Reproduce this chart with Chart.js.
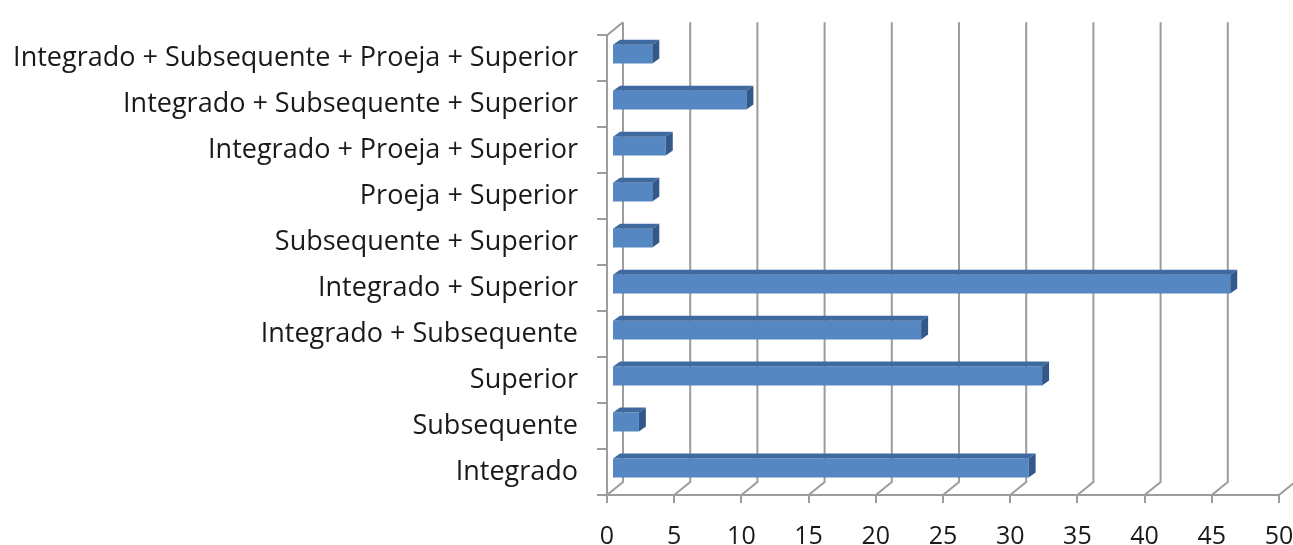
<!DOCTYPE html>
<html>
<head>
<meta charset="utf-8">
<script src="https://cdn.jsdelivr.net/npm/chart.js@4.4.0/dist/chart.umd.min.js"></script>
<style>
  html, body { margin: 0; padding: 0; background: #fff; overflow: hidden; }
  #wrap { width: 1302px; height: 545px; }
</style>
</head>
<body>
<div id="wrap"><canvas id="myChart"></canvas></div>
<script>
// categories listed top to bottom as they appear
const categories = [
  'Integrado + Subsequente + Proeja + Superior',
  'Integrado + Subsequente + Superior',
  'Integrado + Proeja + Superior',
  'Proeja + Superior',
  'Subsequente + Superior',
  'Integrado + Superior',
  'Integrado + Subsequente',
  'Superior',
  'Subsequente',
  'Integrado'
];
const values = [3, 10, 4, 3, 3, 46, 23, 32, 2, 31];
const xTicks = [0, 5, 10, 15, 20, 25, 30, 35, 40, 45, 50];

const gridColor = '#9c9c9c';
const frontColor = '#5587c3';
const topColor = '#3f6aa0';
const sideColor = '#33598a';
const wallDepth = { x: 16, y: 13 };  // back wall offset
const barDepth = { x: 7, y: 5 };     // bar extrusion
const barShift = { x: 5, y: -4 };

// fake 3D: back wall lines behind, extrude faces on the bars
const threeD = {
  id: 'threeD',
  beforeDatasetsDraw(chart) {
    const { ctx, chartArea: a, scales: { x } } = chart;
    ctx.save();
    ctx.strokeStyle = gridColor;
    ctx.lineWidth = 2;
    ctx.beginPath();
    x.ticks.forEach((t, i) => {
      const px = x.getPixelForTick(i);
      ctx.moveTo(px, a.bottom);
      ctx.lineTo(px + wallDepth.x, a.bottom - wallDepth.y);
      ctx.lineTo(px + wallDepth.x, a.top - wallDepth.y);
    });
    ctx.moveTo(a.left, a.top);
    ctx.lineTo(a.left + wallDepth.x, a.top - wallDepth.y);
    ctx.stroke();
    ctx.restore();
    ctx.save();
    ctx.translate(barShift.x, barShift.y);
  },
  afterDatasetsDraw(chart) {
    const ctx = chart.ctx;
    chart.getDatasetMeta(0).data.forEach((bar) => {
      const { x, y, base, height } = bar.getProps(['x', 'y', 'base', 'height'], true);
      const top = y - height / 2;
      const bottom = y + height / 2;
      ctx.fillStyle = topColor;
      ctx.beginPath();
      ctx.moveTo(base, top);
      ctx.lineTo(x, top);
      ctx.lineTo(x + barDepth.x, top - barDepth.y);
      ctx.lineTo(base + barDepth.x, top - barDepth.y);
      ctx.closePath();
      ctx.fill();
      ctx.fillStyle = sideColor;
      ctx.beginPath();
      ctx.moveTo(x, top);
      ctx.lineTo(x + barDepth.x, top - barDepth.y);
      ctx.lineTo(x + barDepth.x, bottom - barDepth.y);
      ctx.lineTo(x, bottom);
      ctx.closePath();
      ctx.fill();
    });
    ctx.restore();
  }
};

Chart.defaults.font.family = '"Open Sans"';
Chart.defaults.font.size = 25;
Chart.defaults.color = '#1a1a1a';

const data = {
  labels: categories,
  datasets: [{
    data: values,
    backgroundColor: frontColor,
    borderWidth: 0,
    barPercentage: 0.41,
    categoryPercentage: 1
  }]
};

const config = {
  type: 'bar',
  data,
  options: {
    indexAxis: 'y',
    responsive: true,
    maintainAspectRatio: false,
    animation: false,
    layout: { padding: { top: 29, right: 23, left: 0, bottom: 0 } },
    plugins: { legend: { display: false }, tooltip: { enabled: false } },
    scales: {
      x: {
        min: 0,
        max: 50,
        afterBuildTicks: (scale) => { scale.ticks = xTicks.map(v => ({ value: v })); },
        afterFit: (scale) => {
          scale.height = 50;
          scale.paddingLeft = 0;
          scale.paddingRight = 0;
        },
        grid: { drawOnChartArea: false, color: gridColor, lineWidth: 2, tickLength: 8 },
        border: { color: gridColor, width: 2 },
        ticks: { padding: 19, maxRotation: 0, autoSkip: false }
      },
      y: {
        afterFit: (scale) => { scale.width = 607; },
        grid: { drawOnChartArea: false, color: gridColor, lineWidth: 2, tickLength: 10, offset: true },
        border: { color: gridColor, width: 2 },
        ticks: { padding: 19, autoSkip: false, font: { size: 27 } }
      }
    }
  },
  plugins: [threeD]
};

var myChart = new Chart(document.getElementById('myChart'), config);
</script>
</body>
</html>
